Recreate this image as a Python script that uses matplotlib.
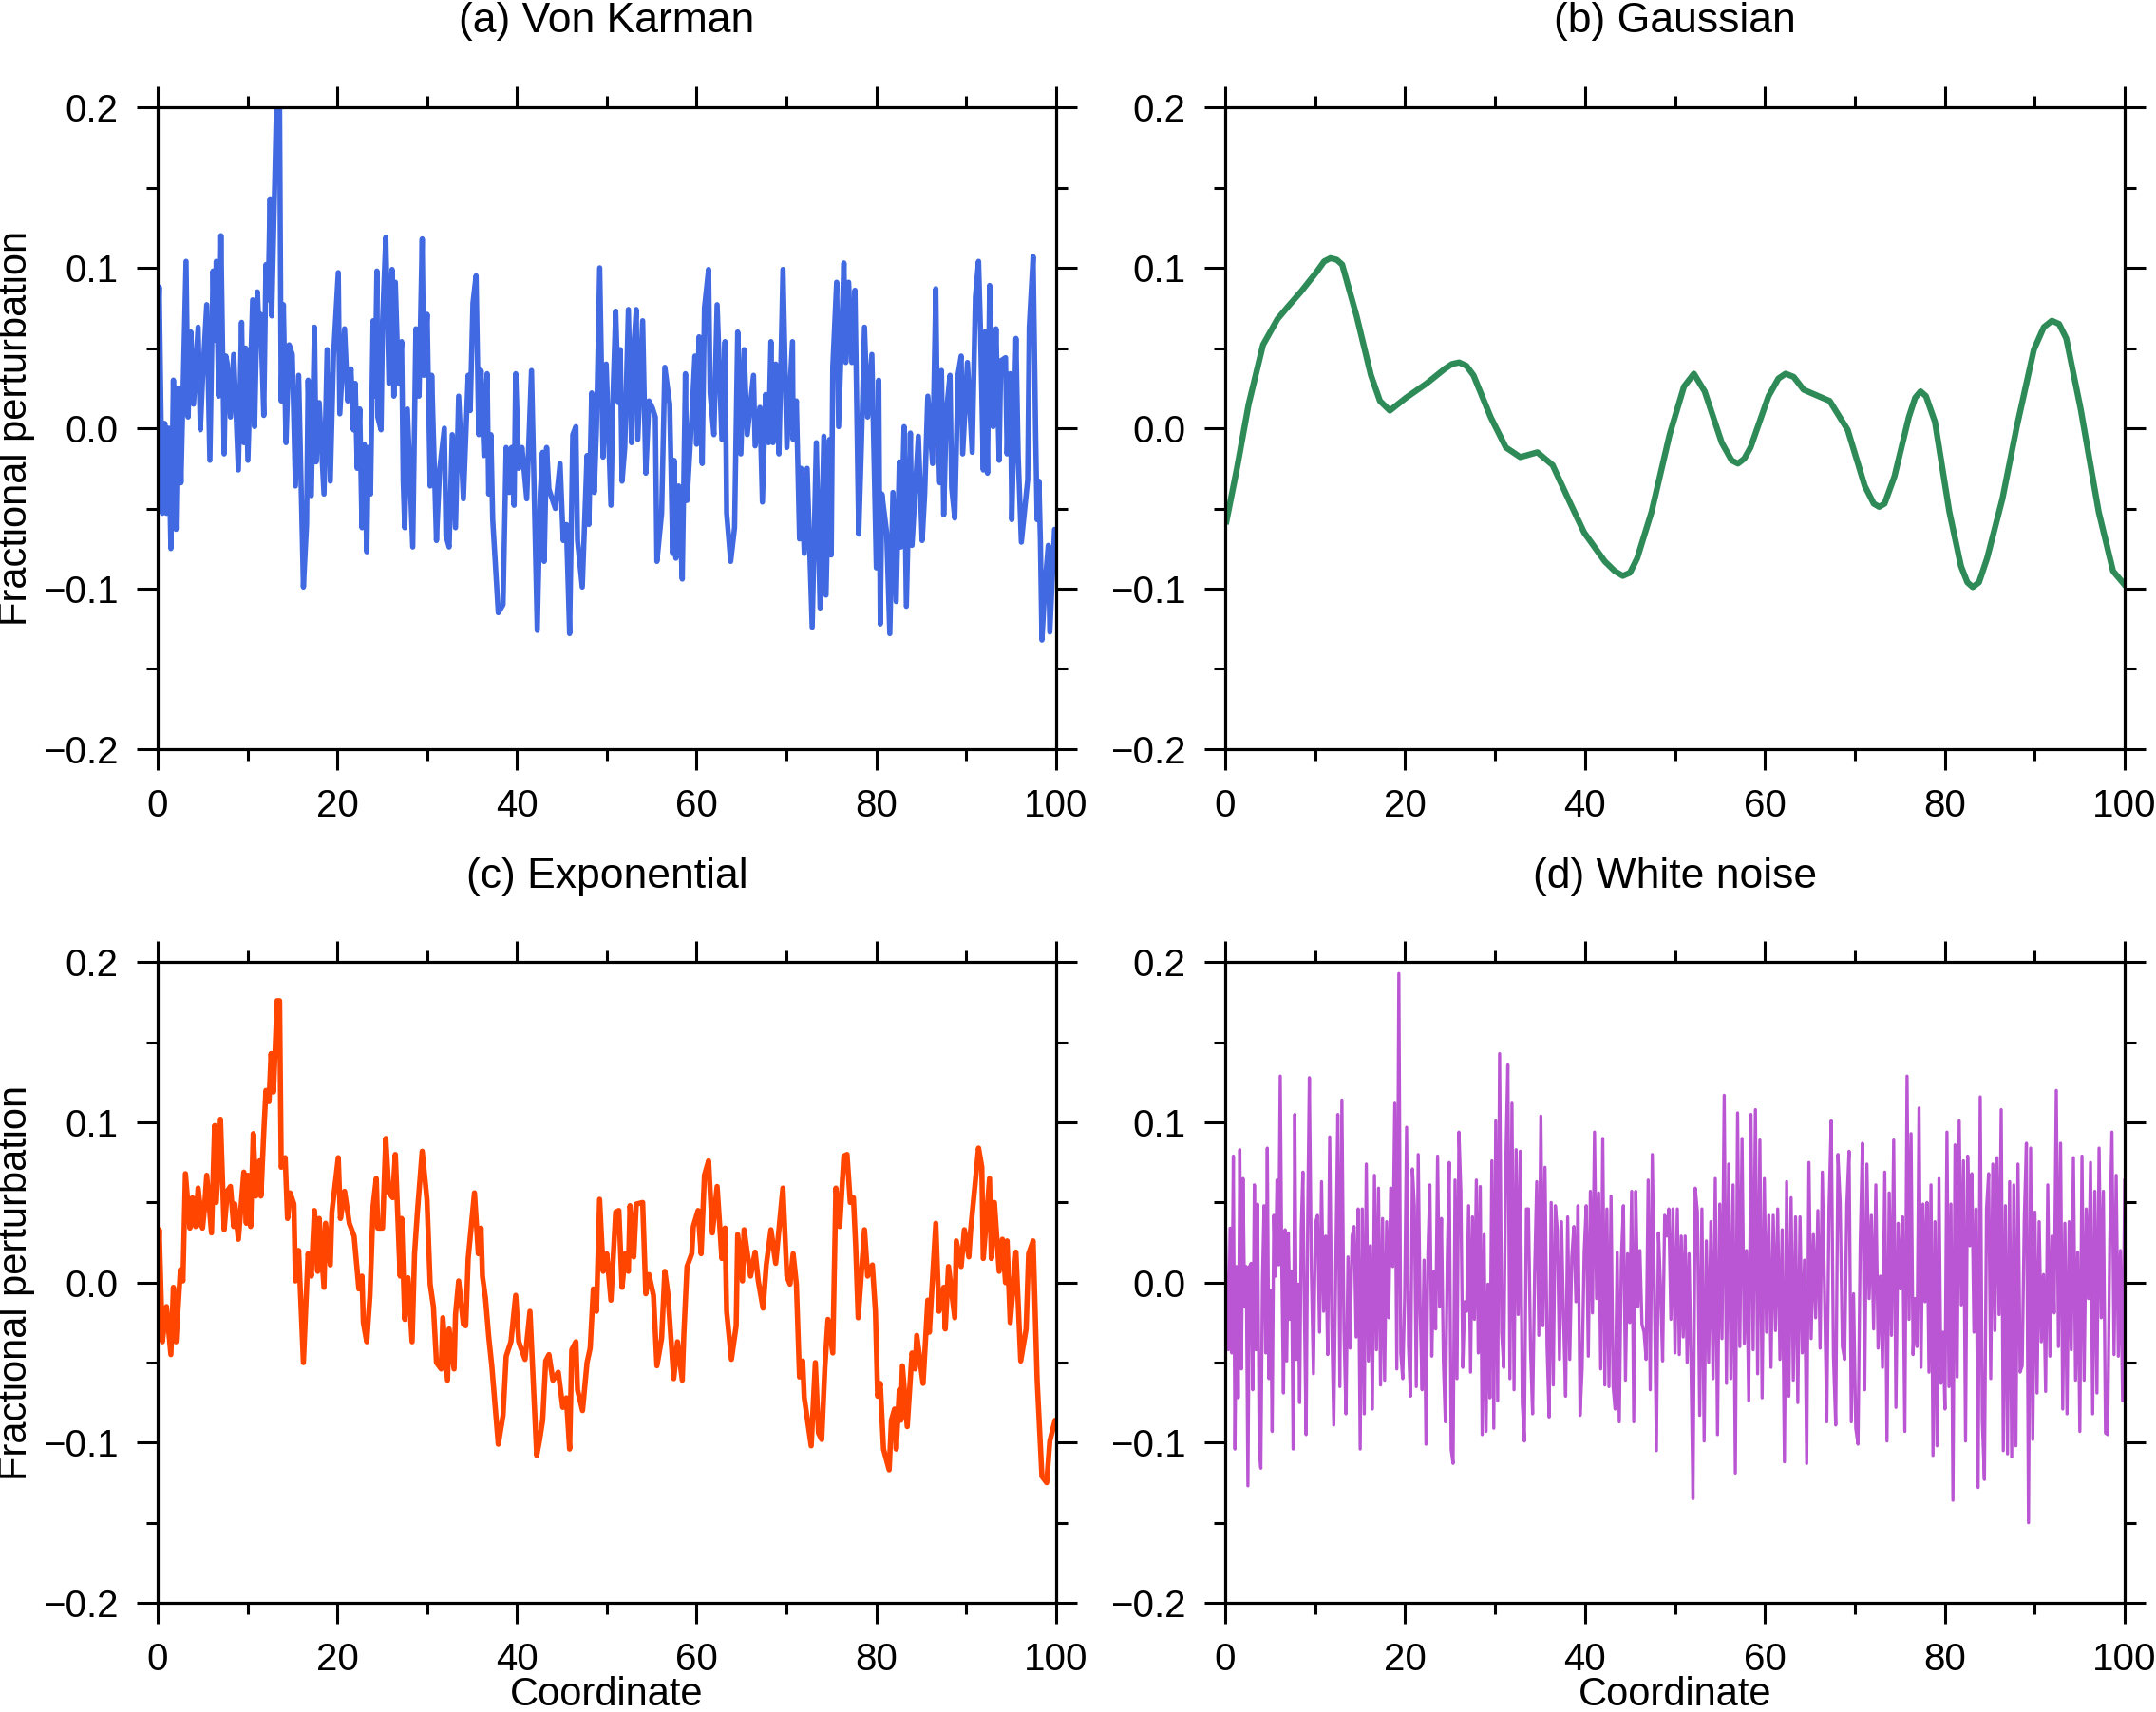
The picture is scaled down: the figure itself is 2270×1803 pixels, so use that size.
import numpy as np
import matplotlib
matplotlib.use("Agg")
import matplotlib.pyplot as plt
from matplotlib.ticker import MultipleLocator, FuncFormatter

plt.rcParams['font.family'] = ['Liberation Sans', 'DejaVu Sans']

# (a) Von Karman
vk_x = [
    0, 0.18, 0.53, 0.8, 0.99, 1.23, 1.48, 1.76, 2.05, 2.3,
    2.6, 3.17, 3.4, 3.7, 4.0, 4.51, 4.76, 5.0, 5.47, 5.82,
    6.17, 6.35, 6.53, 6.8, 7.05, 7.41, 7.6, 7.76, 8.11, 8.47,
    8.99, 9.35, 9.6, 9.8, 10.05, 10.58, 10.8, 11.11, 11.3, 11.46,
    11.82, 12.06, 12.3, 12.52, 12.7, 13.23, 13.58, 13.76, 14.0, 14.29,
    14.64, 14.99, 15.34, 15.7, 16.23, 16.58, 16.75, 17.11, 17.46, 17.64,
    17.99, 18.52, 18.87, 19.22, 19.58, 20.11, 20.28, 20.81, 21.16, 21.52,
    21.8, 22.0, 22.22, 22.5, 22.75, 23.0, 23.28, 23.46, 23.7, 23.99,
    24.2, 24.41, 24.51, 24.87, 25.04, 25.4, 25.75, 26.1, 26.3, 26.46,
    26.8, 27.16, 27.34, 27.51, 27.8, 28.4, 28.75, 29.1, 29.45, 29.63,
    30.0, 30.34, 30.51, 31.04, 31.39, 31.92, 32.1, 32.45, 32.8, 33.16,
    33.51, 34.04, 34.39, 34.57, 34.8, 35.1, 35.45, 35.75, 36.0, 36.33,
    36.68, 36.86, 37.1, 37.3, 37.92, 38.45, 38.8, 39.15, 39.4, 39.68,
    39.86, 40.2, 40.56, 41.09, 41.62, 42.26, 42.6, 42.86, 43.03, 43.3,
    43.56, 44.27, 44.8, 45.15, 45.5, 45.86, 46.21, 46.56, 46.74, 47.27,
    47.8, 48.0, 48.32, 48.6, 48.85, 49.21, 49.58, 49.93, 50.46, 50.7,
    50.99, 51.3, 51.5, 51.7, 52.0, 52.4, 52.75, 53.0, 53.28, 53.45,
    53.99, 54.34, 54.69, 55.05, 55.4, 55.58, 56.1, 56.46, 57.0, 57.34,
    57.5, 57.69, 58.0, 58.4, 58.75, 58.93, 59.46, 59.81, 60.0, 60.27,
    60.62, 60.87, 61.33, 61.5, 61.92, 62.28, 62.81, 63.16, 63.34, 63.79,
    64.22, 64.57, 64.92, 65.28, 65.63, 66.33, 66.51, 67.04, 67.32, 67.67,
    68.0, 68.27, 68.5, 68.8, 69.16, 69.61, 70.04, 70.67, 70.74, 71.1,
    71.45, 71.62, 71.98, 72.3, 72.86, 73.32, 73.74, 74.16, 74.4, 74.8,
    74.98, 75.15, 75.58, 75.8, 76.39, 76.6, 76.92, 77.27, 77.62, 78.04,
    78.33, 78.68, 79.03, 79.5, 79.67, 80.0, 80.27, 80.44, 80.62, 81.15,
    81.5, 81.85, 82.21, 82.56, 82.74, 83.09, 83.34, 83.79, 83.97, 84.68,
    85.1, 85.38, 85.73, 86.26, 86.62, 86.8, 87.07, 87.25, 87.5, 87.78,
    88.2, 88.38, 88.73, 89.09, 89.44, 89.61, 90.14, 90.67, 91.03, 91.38,
    91.6, 91.91, 92.08, 92.37, 92.61, 93.0, 93.32, 93.67, 93.85, 94.38,
    94.55, 94.9, 95.08, 95.54, 95.79, 96.14, 96.85, 97.02, 97.45, 97.73,
    97.9, 98.1, 98.26, 98.43, 98.78, 99.14, 99.31, 99.84, 100,
]
vk_y = [
    0.06, 0.088, -0.053, 0.003, -0.053, 0.0, -0.075, 0.03, -0.063, 0.025,
    -0.034, 0.104, 0.007, 0.06, 0.015, 0.063, -0.001, 0.03, 0.077, -0.02,
    0.098, 0.055, 0.104, 0.02, 0.12, -0.016, 0.045, 0.04, 0.007, 0.046,
    -0.026, 0.066, -0.009, 0.05, -0.02, 0.08, 0.001, 0.085, 0.06, 0.071,
    0.008, 0.102, 0.08, 0.143, 0.07, 0.2, 0.2, 0.017, 0.077, -0.009,
    0.052, 0.046, -0.036, 0.033, -0.099, -0.06, 0.03, -0.042, 0.063, -0.021,
    0.016, -0.041, 0.049, -0.033, 0.045, 0.097, 0.009, 0.062, 0.017, 0.037,
    -0.001, 0.028, -0.025, 0.012, -0.062, -0.01, -0.077, -0.012, -0.041, 0.067,
    0.02, 0.098, 0.007, -0.001, 0.067, 0.119, 0.028, 0.099, 0.02, 0.091,
    0.028, 0.054, -0.033, -0.062, 0.012, -0.074, 0.062, 0.02, 0.118, 0.033,
    0.071, -0.036, 0.033, -0.07, -0.026, 0.0, -0.067, -0.074, -0.004, -0.062,
    0.02, -0.044, 0.007, 0.033, 0.011, 0.078, 0.095, -0.004, 0.036, -0.017,
    0.034, -0.041, -0.004, -0.057, -0.115, -0.11, -0.012, -0.04, -0.012, -0.048,
    0.034, -0.025, -0.012, -0.044, 0.036, -0.126, -0.04, -0.015, -0.083, -0.012,
    -0.038, -0.05, -0.022, -0.07, -0.06, -0.128, -0.004, 0.001, -0.07, -0.099,
    -0.017, -0.06, 0.022, -0.04, 0.0, 0.1, -0.018, 0.04, -0.048, 0.022,
    0.073, 0.016, 0.049, -0.033, -0.012, 0.074, -0.009, 0.05, 0.074, -0.007,
    0.067, -0.028, 0.017, 0.013, 0.007, -0.083, -0.053, 0.038, 0.015, -0.078,
    -0.02, -0.081, -0.036, -0.094, 0.034, -0.045, 0.007, 0.045, -0.01, 0.057,
    -0.022, 0.075, 0.099, 0.022, -0.004, 0.077, -0.007, 0.054, -0.053, -0.083,
    -0.062, 0.06, -0.016, 0.049, -0.004, 0.033, -0.011, 0.013, -0.046, 0.021,
    -0.009, 0.054, -0.009, 0.04, -0.016, 0.099, -0.012, 0.054, -0.007, 0.017,
    -0.069, -0.025, -0.078, -0.025, -0.124, -0.009, -0.112, -0.005, -0.104, -0.007,
    -0.079, 0.038, 0.091, 0.001, 0.103, 0.041, 0.091, 0.041, 0.086, -0.066,
    -0.012, 0.063, 0.007, 0.046, 0.001, -0.087, 0.03, -0.122, -0.041, -0.065,
    -0.128, -0.04, -0.108, -0.021, -0.074, 0.001, -0.111, -0.003, -0.073, -0.005,
    -0.07, -0.041, 0.02, -0.022, 0.087, 0.003, -0.034, 0.036, -0.054, 0.009,
    0.033, -0.037, -0.056, 0.033, 0.045, -0.016, 0.041, -0.015, 0.082, 0.104,
    0.06, -0.026, 0.06, -0.028, 0.089, 0.001, 0.062, -0.02, 0.042, 0.044,
    -0.016, 0.034, -0.057, 0.056, -0.017, -0.071, -0.032, 0.063, 0.107, -0.003,
    -0.057, -0.033, -0.07, -0.132, -0.097, -0.073, -0.127, -0.063, -0.065,
]

# (b) Gaussian
gs_x = [0.13, 1.3, 2.6, 4.2, 5.8, 7.0, 8.4, 10.1, 11.0, 11.7,
        12.4, 13.0, 14.6, 16.2, 17.2, 18.3, 20.1, 22.4, 24.4, 25.2,
        26.0, 26.8, 27.6, 29.5, 31.2, 32.8, 34.7, 36.4, 38.3, 39.9,
        42.2, 43.3, 44.2, 45.0, 45.8, 47.4, 49.4, 51.0, 52.1, 53.3,
        55.2, 56.3, 57.0, 57.7, 58.4, 60.4, 61.5, 62.3, 63.2, 64.3,
        67.2, 69.2, 71.1, 72.1, 72.7, 73.3, 74.4, 76.0, 76.7, 77.3,
        77.9, 78.9, 80.5, 81.8, 82.5, 83.1, 83.8, 84.7, 86.4, 88.0,
        89.9, 91.0, 91.9, 92.7, 93.5, 95.1, 97.1, 98.7, 99.9]
gs_y = [-0.058, -0.025, 0.015, 0.052, 0.068, 0.076, 0.085, 0.097, 0.104, 0.106,
        0.105, 0.102, 0.070, 0.033, 0.017, 0.011, 0.019, 0.028, 0.037, 0.040,
        0.041, 0.039, 0.033, 0.007, -0.012, -0.018, -0.015, -0.023, -0.046, -0.065,
        -0.083, -0.089, -0.092, -0.090, -0.081, -0.052, -0.004, 0.026, 0.034, 0.023,
        -0.009, -0.020, -0.022, -0.019, -0.012, 0.020, 0.031, 0.034, 0.032, 0.024,
        0.017, -0.001, -0.036, -0.047, -0.049, -0.047, -0.030, 0.007, 0.019, 0.023,
        0.020, 0.004, -0.052, -0.086, -0.096, -0.099, -0.096, -0.081, -0.044, 0.001,
        0.049, 0.063, 0.067, 0.065, 0.056, 0.012, -0.052, -0.089, -0.097]

# (c) Exponential
ex_x = [
    0, 0.18, 0.53, 0.99, 1.48, 1.76, 2.05, 2.54, 2.82, 3.1,
    3.6, 3.88, 4.23, 4.51, 5.0, 5.2, 5.47, 6.0, 6.35, 6.53,
    7.0, 7.41, 7.76, 8.11, 8.47, 8.6, 8.99, 9.6, 9.88, 10.05,
    10.35, 10.65, 10.94, 11.35, 11.5, 11.82, 12.06, 12.4, 12.63, 12.9,
    13.3, 13.58, 13.76, 14.2, 14.46, 14.75, 15.17, 15.34, 15.7, 16.23,
    16.75, 17.11, 17.46, 17.82, 17.99, 18.52, 18.7, 19.22, 19.4, 20.11,
    20.35, 20.81, 21.34, 21.87, 22.4, 22.75, 22.9, 23.28, 23.64, 23.99,
    24.34, 24.51, 25.04, 25.4, 25.75, 26.17, 26.46, 27.0, 27.16, 27.51,
    27.87, 28.33, 28.6, 28.93, 29.45, 29.98, 30.34, 30.7, 31.04, 31.57,
    31.75, 32.27, 32.45, 33.0, 33.16, 33.51, 34.04, 34.3, 34.57, 35.27,
    35.7, 36.0, 36.16, 36.5, 36.86, 37.2, 37.92, 38.45, 38.8, 39.33,
    39.86, 40.2, 40.9, 41.45, 42.2, 42.5, 42.86, 43.2, 43.56, 44.0,
    44.6, 45.1, 45.5, 45.86, 46.1, 46.56, 46.74, 47.3, 47.8, 48.15,
    48.5, 48.85, 49.2, 49.6, 50.0, 50.46, 50.99, 51.34, 51.7, 52.05,
    52.4, 52.58, 53.0, 53.28, 53.99, 54.34, 54.69, 55.2, 55.58, 56.1,
    56.46, 56.8, 57.45, 57.87, 58.4, 58.57, 58.93, 59.46, 59.63, 60.16,
    60.5, 60.87, 61.33, 61.75, 62.28, 62.81, 63.16, 63.34, 63.87, 64.4,
    64.57, 65.1, 65.28, 65.63, 66.0, 66.51, 66.86, 67.39, 67.75, 68.27,
    68.8, 69.6, 70.04, 70.39, 70.74, 71.1, 71.45, 71.8, 71.98, 72.75,
    73.21, 73.56, 73.92, 74.27, 74.62, 75.15, 75.5, 75.92, 76.39, 76.74,
    77.1, 77.45, 77.7, 77.98, 78.68, 79.03, 79.56, 79.9, 80.15, 80.44,
    80.8, 81.43, 81.68, 82.03, 82.21, 82.56, 82.74, 82.9, 83.44, 83.97,
    84.32, 84.5, 84.85, 85.2, 85.73, 85.9, 86.62, 86.97, 87.5, 87.67,
    88.03, 88.73, 88.9, 89.44, 89.8, 90.3, 90.5, 91.38, 91.74, 91.9,
    92.6, 92.8, 93.14, 93.67, 94.03, 94.38, 94.55, 94.9, 95.54, 96.07,
    96.67, 96.95, 97.45, 97.9, 98.43, 98.96, 99.31, 99.9, 100,
]
ex_y = [
    0.01, 0.033, -0.037, -0.015, -0.045, -0.003, -0.037, 0.008, 0.001, 0.068,
    0.034, 0.053, 0.035, 0.059, 0.034, 0.045, 0.067, 0.031, 0.098, 0.05,
    0.102, 0.033, 0.057, 0.06, 0.035, 0.049, 0.027, 0.069, 0.037, 0.067,
    0.035, 0.093, 0.054, 0.076, 0.054, 0.094, 0.12, 0.113, 0.143, 0.119,
    0.176, 0.176, 0.072, 0.078, 0.04, 0.056, 0.049, 0.001, 0.02, -0.05,
    0.018, 0.004, 0.045, 0.007, 0.04, -0.003, 0.037, 0.011, 0.044, 0.078,
    0.04, 0.057, 0.037, 0.029, -0.004, 0.004, -0.025, -0.037, -0.008, 0.048,
    0.065, 0.034, 0.034, 0.09, 0.056, 0.053, 0.08, 0.004, 0.04, -0.023,
    0.003, -0.037, 0.018, 0.045, 0.082, 0.052, -0.001, -0.015, -0.05, -0.054,
    -0.022, -0.061, -0.029, -0.054, -0.02, 0.001, -0.026, -0.027, 0.015, 0.056,
    0.018, 0.034, 0.004, -0.01, -0.034, -0.052, -0.101, -0.083, -0.046, -0.037,
    -0.008, -0.037, -0.048, -0.018, -0.108, -0.099, -0.086, -0.049, -0.045, -0.061,
    -0.056, -0.078, -0.072, -0.104, -0.042, -0.037, -0.067, -0.08, -0.05, -0.041,
    -0.004, -0.018, 0.052, 0.007, 0.018, -0.011, 0.044, 0.045, -0.003, 0.018,
    0.007, 0.048, 0.016, 0.049, 0.05, -0.007, 0.005, -0.008, -0.052, -0.035,
    0.007, -0.007, -0.06, -0.037, -0.061, -0.033, 0.01, 0.018, 0.035, 0.045,
    0.018, 0.067, 0.076, 0.031, 0.06, 0.015, 0.034, -0.018, -0.048, -0.027,
    0.03, 0.001, 0.033, 0.019, 0.004, 0.019, 0.001, -0.016, 0.011, 0.033,
    0.012, 0.059, 0.004, -0.001, 0.018, -0.001, -0.059, -0.049, -0.072, -0.102,
    -0.05, -0.094, -0.098, -0.053, -0.023, -0.044, 0.059, 0.035, 0.079, 0.08,
    0.05, 0.053, 0.023, -0.022, 0.033, 0.004, 0.011, -0.018, -0.071, -0.063,
    -0.104, -0.117, -0.086, -0.079, -0.104, -0.067, -0.086, -0.052, -0.09, -0.044,
    -0.054, -0.033, -0.048, -0.063, -0.011, -0.031, 0.037, -0.018, -0.003, -0.029,
    0.01, -0.022, 0.026, 0.01, 0.033, 0.016, 0.033, 0.084, 0.072, 0.015,
    0.065, 0.015, 0.05, 0.007, 0.027, 0.0, 0.026, -0.025, 0.019, -0.049,
    -0.029, 0.018, 0.026, -0.061, -0.121, -0.125, -0.099, -0.086, -0.09,
]

# (d) White noise
wn_y = [
    0.045, -0.019, -0.042, 0.034, -0.044, 0.079, -0.104, 0.01, -0.072, 0.083,
    -0.054, 0.065, -0.015, 0.01, -0.127, 0.01, 0.012, -0.067, 0.061, -0.042,
    0.049, -0.104, -0.116, 0.001, 0.048, -0.044, 0.084, -0.06, -0.005, -0.093,
    0.042, 0.004, 0.064, 0.011, 0.129, 0.007, -0.069, 0.033, -0.049, 0.031,
    -0.023, 0.007, -0.104, 0.105, -0.048, -0.001, -0.075, 0.034, 0.069, -0.023,
    -0.095, 0.042, 0.128, 0.007, -0.057, 0.037, 0.042, -0.031, 0.063, -0.018,
    0.029, -0.045, 0.091, -0.023, -0.089, 0.011, 0.105, -0.065, 0.114, -0.029,
    -0.082, 0.016, -0.041, 0.029, 0.035, -0.034, 0.046, -0.104, 0.046, -0.082,
    0.074, -0.049, 0.023, -0.079, 0.067, -0.042, 0.059, -0.064, 0.04, -0.061,
    0.038, -0.022, 0.059, 0.01, 0.112, -0.054, 0.193, -0.044, -0.06, -0.01,
    0.097, -0.04, -0.071, 0.071, 0.048, -0.065, 0.08, -0.018, -0.067, 0.014,
    -0.101, 0.018, 0.061, -0.046, 0.007, -0.029, 0.079, -0.015, 0.04, -0.05,
    -0.087, 0.015, 0.075, -0.104, -0.113, 0.064, -0.06, 0.094, 0.057, -0.053,
    -0.012, -0.018, 0.048, -0.056, 0.041, -0.023, 0.064, -0.044, 0.06, -0.095,
    0.03, -0.093, -0.001, -0.072, 0.076, -0.091, 0.101, -0.074, 0.143, -0.031,
    -0.053, 0.074, 0.136, -0.06, 0.112, -0.067, 0.083, -0.02, 0.082, -0.075,
    -0.099, 0.046, 0.046, -0.042, -0.082, 0.007, 0.063, -0.033, 0.104, -0.027,
    0.072, -0.04, -0.084, 0.05, -0.064, 0.048, 0.033, -0.048, 0.038, -0.023,
    -0.071, 0.041, -0.048, 0.016, 0.035, -0.012, 0.048, -0.083, -0.054, 0.019,
    0.048, -0.046, 0.057, -0.019, 0.094, -0.01, 0.056, -0.054, 0.09, -0.064,
    0.046, -0.065, 0.054, -0.065, -0.079, 0.019, -0.087, 0.014, 0.048, -0.061,
    0.018, -0.025, 0.057, -0.087, 0.057, -0.015, 0.02, -0.026, -0.031, -0.048,
    0.064, -0.067, 0.08, -0.004, -0.105, 0.031, -0.003, -0.049, 0.042, 0.029,
    0.046, -0.023, 0.046, -0.044,
    0.046, -0.045, 0.029, -0.034, 0.029, -0.05, 0.018, -0.05, -0.135, 0.059,
    0.044, -0.083, 0.046, -0.099, 0.026, -0.05, 0.038, -0.06, 0.065, -0.095,
    0.049, -0.035, 0.117, -0.063, 0.074, -0.06, 0.061, -0.119, 0.106, -0.04,
    0.09, -0.038, 0.02, -0.074, 0.105, -0.042, 0.108, -0.057, 0.089, -0.072,
    0.065, -0.031, 0.042, -0.053, 0.042, -0.03, 0.046, -0.048, 0.033, -0.112,
    0.063, -0.071, 0.053, -0.061, 0.041, -0.075, 0.041, -0.044, 0.014, -0.113,
    0.075, -0.035, 0.03, -0.022, 0.045, -0.041, 0.069, -0.007, -0.087, 0.046,
    0.101, -0.046, -0.089, 0.08, 0.05, -0.04, -0.048, 0.049, 0.082, -0.087,
    -0.007, -0.091, -0.101, 0.025, 0.087, -0.067, 0.074, -0.01, 0.042, -0.029,
    0.061, -0.041, 0.004, -0.053, 0.069, -0.099, 0.056, -0.033, 0.089, -0.078,
    0.037, -0.004, 0.041, -0.093, 0.129, -0.023, 0.093, -0.045, -0.01, -0.04,
    0.109, -0.053, 0.049, -0.012, 0.05, -0.056, 0.061, -0.108, 0.038, -0.102,
    0.065, -0.063, -0.031, -0.079, 0.094, -0.065, 0.049, -0.136, 0.086, -0.059,
    0.101, -0.014, 0.076, -0.099, 0.079, 0.023, 0.068, -0.031, 0.046, -0.128,
    0.116, -0.086, -0.123, 0.046, 0.068, -0.06, 0.074, -0.03, 0.078, -0.02,
    0.108, -0.105, 0.048, -0.107, 0.063, -0.109, 0.061, -0.102, 0.074, -0.056,
    -0.052, 0.04, 0.087, -0.15, 0.084, -0.098, 0.044, -0.069, 0.038, -0.037,
    0.005, -0.068, 0.061, -0.046, 0.029, -0.019, 0.12, -0.04, 0.087, -0.079,
    0.037, -0.082, 0.038, -0.042, 0.078, -0.061, 0.019, -0.093, 0.079, -0.061,
    0.046, -0.01, 0.075, -0.082, 0.057, -0.069, 0.084, -0.022, 0.057, -0.094,
    -0.095, 0.026, 0.094, -0.045, 0.067, -0.046, 0.02, -0.074, 0.064,
]
# sample index -> coordinate, pinned at a few spikes
wn_anchor_idx = [0, 52, 96, 148, 233, 234, 242, 338, 361, 397, len(wn_y) - 1]
wn_anchor_x = [0, 9.35, 19.3, 30.5, 50.0, 50.26, 52.0, 75.8, 80.9, 89.3, 100]
wn_x = np.interp(np.arange(len(wn_y)), wn_anchor_idx, wn_anchor_x)

panels = [
    ("(a) Von Karman", vk_x, vk_y, "royalblue", 4.0),
    ("(b) Gaussian", gs_x, gs_y, "seagreen", 4.6),
    ("(c) Exponential", ex_x, ex_y, "orangered", 4.0),
    ("(d) White noise", wn_x, wn_y, "mediumorchid", 2.4),
]

boxes = [
    [0.0731, 0.5624, 0.4167, 0.3749],
    [0.5683, 0.5624, 0.4172, 0.3749],
    [0.0731, 0.0638, 0.4167, 0.3741],
    [0.5683, 0.0638, 0.4172, 0.3741],
]

fs = 29


def ytick_fmt(v, pos):
    s = f"{v:.1f}"
    if s == "-0.0":
        s = "0.0"
    return s.replace("-", "\u2212")


fig = plt.figure(figsize=(22.7, 18.03), dpi=100)

for i, ((title, xs, ys, col, lw), box) in enumerate(zip(panels, boxes)):
    ax = fig.add_axes(box)
    ax.plot(xs, ys, color=col, lw=lw)
    ax.set_xlim(0, 100)
    ax.set_ylim(-0.2, 0.2)
    ax.xaxis.set_major_locator(MultipleLocator(20))
    ax.xaxis.set_minor_locator(MultipleLocator(10))
    ax.yaxis.set_major_locator(MultipleLocator(0.1))
    ax.yaxis.set_minor_locator(MultipleLocator(0.05))
    ax.yaxis.set_major_formatter(FuncFormatter(ytick_fmt))
    ax.tick_params(which='both', direction='out', top=True, right=True, width=2.2)
    ax.tick_params(which='major', length=15.8)
    ax.tick_params(which='minor', length=8.6)
    ax.tick_params(axis='x', which='major', labelsize=fs, pad=14)
    ax.tick_params(axis='y', which='major', labelsize=fs, pad=14)
    for sp in ax.spines.values():
        sp.set_linewidth(2.3)

    ax.text(0.5, 1.1165, title, transform=ax.transAxes, ha='center',
            va='baseline', fontsize=32)
    if i % 2 == 0:
        ax.text(-0.1575, 0.5, "Fractional perturbation", transform=ax.transAxes,
                rotation=90, ha='center', va='center', fontsize=30)
    if i >= 2:
        ax.text(0.5, -0.1605, "Coordinate", transform=ax.transAxes,
                ha='center', va='baseline', fontsize=30)

fig.savefig("out.png", dpi=100)
